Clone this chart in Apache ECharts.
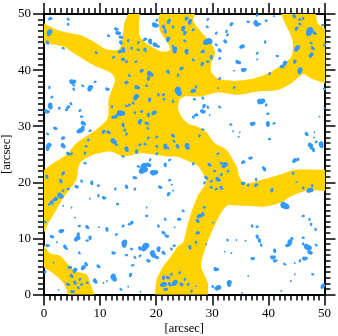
<!DOCTYPE html>
<html>
<head>
<meta charset="utf-8">
<style>html,body{margin:0;padding:0;background:#fff}#c{width:338px;height:336px}</style>
<script src="https://cdn.jsdelivr.net/npm/echarts@6/dist/echarts.min.js"></script>
</head>
<body>
<div id="c"></div>
<script>
const axisTitle = "[arcsec]";
const axisRange = [0, 50];
const tickStep = 10;
const minorPerMajor = 10;

// Yellow network outline, [x, y] in arcsec
const networkMain = [[-1,48.8],[0,48.35],[2.26,47.2],[4.63,46.6],[6.7,46.15],[8.8,45.1],[11.2,43.7],[13.4,43.7],[14.1,46.6],[14.3,48.35],[15,50],[15,51],
[17.1,51],[17.1,50],[16.9,47.8],[17.1,46],[18.6,44.5],[21,43.3],[22.5,43.6],[21.9,45.1],[20.7,46.9],[20.4,49],[20.6,50],[20.6,51],
[26.9,51],[26.9,50],[26.55,48.9],[27.7,47.2],[29.8,44.8],[30.5,43],[29.8,41.2],[29.8,39.7],[31,38.5],[33.96,38.1],[36.9,38.4],[39.9,39.4],[42.3,40.9],[44.1,42.4],[44.4,44.5],[44.1,46],[43.2,47.8],[42.3,50],[42.3,51],
[48.5,51],[48.5,50],[48.8,48.35],[50,47.5],[51,47],[51,37.2],[50,37.65],[47.6,38.5],[46.2,39.3],[44.1,37.65],[41.7,36.45],[38.1,36.2],[34.6,35.6],[31,36],[28,35.3],[25.07,35.3],[24.2,34.7],[23.9,33.2],[24.5,31.7],[25.7,30.5],[27.4,29.9],[28.9,29],[30.4,27],[32.5,25.8],[34.3,22.9],
[34.9,20.8],[35.8,19.8],[38.1,20.25],[41.7,21.25],[44.7,22.2],[50,22.2],[51,22.2],[51,18.4],[50,18.45],[47.05,18.6],[44.1,17.55],[42.3,16.4],[39.3,15.65],[35.8,15.8],[32.8,15.9],[31.6,14.6],[30.1,11.6],[28.9,8.65],[28,5.1],[29.2,2.1],[29.2,0],[29.2,-1],
[19.8,-1],[19.8,0],[20.1,2.7],[21.3,5.1],[22.5,6.6],[23.9,8.65],[24.8,9.25],[25.4,11.6],[26.26,14.6],[27.4,17.55],[28.9,19.9],[28.6,21.1],[27.4,22.9],[23.9,24.5],[22.1,24.6],
[17.7,25.2],[15.9,24.9],[14.1,24.6],[11.8,25.5],[8.8,24.9],[6.4,23.4],[5.8,20.5],[4.6,18.8],[3.45,17.2],[2.26,15.2],[0.5,12.2],[0,11],[-1,10],
[-1,21.5],[0,22.2],[1.66,23.4],[4,24.9],[5.8,27],[8.8,29],[11.2,31.1],[11.5,32.3],[11.5,34.7],[12.65,38.2],[12.06,39.4],[8.8,40.9],[5.8,42.7],[3.45,44.2],[0,44.8],[-1,44.9]];
const networkCorner = [[-1,9.5],[0,8.8],[1.07,7.35],[2.85,6.9],[4.3,5.4],[5.5,4.2],[7.6,3.6],[8.2,2.1],[9,0],[9.3,-1],[4.1,-1],[4.3,0],[3.4,2.1],[1.7,3.7],[0,4.8],[-1,5.4]];
const networkPolygons = [networkMain, networkCorner];

// Blue patches, [x, y, width]
const patchesUpperLeft = [[1.1,49.2,3],[.95,46.7,5],[.6,44.9,3],[4.3,49.05,2],[4.3,48.15,2],[11.5,46.1,2],[12.9,47.3,3],[13.2,46.6,4],[13.7,45.85,3],[13.7,44.9,3],[15,45.25,2],[16.8,44.9,2],[14.1,43.6,4],[13.5,43.3,3],[15.6,43.9,2],[16.8,43.6,2],[18,43.6,3],[9.3,43.1,2],[3.4,43.9,2],[12.4,42.3,2],[14.1,41.9,3],[14.7,41.5,2],[16.4,41.5,2],[17.4,39.9,3],[18.9,39.3,5],[18.6,38.5,3],[15.2,39,2],[14.7,37.8,3],[5.1,37.9,5],[5.3,37.3,2],[6.9,37.2,2],[8.2,36.8,5],[11.3,36.6,3],[9.1,37.9,2],[5.3,36.6,2],[.95,36.9,2],[16.6,36.9,4],[18.3,37.2,2],[1.4,35.2,2],[16.4,35.2,5],[15.9,34.1,2],[18.8,34.7,3],[20.4,35.6,2],[21.3,35.6,2],[21.4,34.8,2],[1.1,33.6,5],[.5,32.6,4],[2.7,33.2,2],[4.3,33.4,3],[4,32.9,2],[4.8,34,2],[6.4,32.8,2],[6.7,31.7,2],[13.7,32.3,6],[12.9,31.8,3],[12.4,31.6,3],[12.1,33.5,2],[14.7,33.6,2],[15.2,33.8,2],[16.2,32.4,2],[17.4,32.6,2],[19.6,32.4,4],[18.6,32,3],[7,30.5,4],[6.9,29.6,4],[6.4,29.2,5],[8.2,29.2,2],[2,29.6,3],[.65,28.6,2],[14.1,30.2,3],[14.4,29.3,2],[14.7,28.6,2],[17.1,30.8,4],[18.3,30.5,3],[18.5,29.6,2],[10.6,29,3],[11.5,28.9,3],[3.4,27.9,3],[.8,26.5,5],[3.4,26.5,4],[.65,25.8,2],[12.4,27.3,5],[12.9,26.7,2],[7.9,27.5,2],[7.5,26.4,2],[4.3,25.1,3],[4.9,25.1,2],[7.3,25.2,2],[14.7,25.9,4],[14.1,24.6,2],[16.5,25.5,3],[18,26.8,2],[20.1,26.4,2],[21.6,26.4,4],[18.6,27.9,2],[20.1,28.1,2],[17.1,26.7,2],[18.9,24,2],[20.1,25.1,2],[17.7,22.8,6],[18.6,23.1,4],[16.8,22.8,2],[7.3,23.4,2],[21.6,23.1,3],[18,45.5,3],[18.9,45.1,4],[19.8,44.5,4],[20.4,44.2,2],[19.8,48,5],[21.3,47.7,3],[21.6,46.9,3],[20.1,48.9,2],[22.2,48.6,3]];
const patchesUpperRight = [[22.4,48.9,2],[25.4,49.2,3],[26,48.6,4],[23,47.7,2],[24.8,47.4,4],[25.1,46.6,3],[26.6,47.2,2],[22.1,45.5,4],[25.1,45.2,2],[29.2,45.1,7],[30.7,44.5,2],[31.3,43.5,3],[32.3,45.1,3],[29.2,49.05,2],[29.1,47.7,2],[33.4,48.2,3],[32.5,46.9,2],[32.7,46.3,2],[30.7,46.6,2],[36.4,48.6,2],[37.8,48.3,5],[38.4,48.2,2],[39.6,48.8,2],[38,49.8,2],[41,49.6,1],[35.3,44.2,4],[39.4,45,2],[23.3,43.6,5],[25.4,43.3,4],[28.3,43.3,3],[23,44.2,2],[29.8,42.3,3],[29.2,41.5,2],[31.3,42.1,2],[34.6,41.4,4],[35.6,40,4],[33.9,39.9,1],[38,43,2],[38,41.9,1],[41.6,42.5,2],[28.2,41.1,3],[26.6,41.8,2],[24.5,40.3,3],[23.9,39.1,2],[22.1,39.7,3],[40.2,39.4,2],[31.3,38.5,2],[42.9,41.2,4],[42.4,40.6,3],[44.7,41.5,3],[45.6,39.9,5],[45.1,43.9,5],[47.9,43.9,3],[47.6,42.7,4],[47.3,46.9,7],[48.2,46.6,3],[45,47.4,3],[44.6,49.6,3],[45.6,49.05,2],[46.2,49.2,2],[45.6,48.2,2],[49.7,48,2],[47.6,44.8,2],[50,44.5,2],[23.9,36.2,7],[23,34.4,2],[26.6,36.3,4],[27.1,37,2],[33.9,36.9,2],[31,36.8,1],[28.3,35,2],[26.8,34.8,2],[28.5,33.6,3],[28.3,32.6,4],[27.1,32,3],[29.2,33.4,2],[31.3,33.4,2],[29.5,32,1],[26.6,31.6,2],[38.7,34.4,6],[39.6,33.8,2],[39.9,32.2,2],[37.2,30.4,4],[39.9,30.4,4],[41,30.5,2],[33.3,30.3,2],[33.7,29.1,1],[34.9,28.9,1],[34.7,28.1,1],[40.2,27.7,2],[46.8,28.6,3],[48.2,28.9,1],[48.1,28,1],[50,36.6,2],[50,33.2,1],[49.1,31.7,1],[36.8,24.3,3],[35.5,23.6,3],[44.7,23.9,4],[45.3,24.1,2],[39.2,22.5,3],[47.3,26.7,3],[47.6,26.4,4],[48,25.8,3],[49.4,26.7,5],[48.5,27.2,2],[23,28.3,3],[22.1,26.1,2],[23.8,26.4,3],[25.5,26.4,5],[27.7,28.3,2],[28.3,29.4,2],[23.2,27.3,2],[26.6,23.3,2],[29.5,23.1,3],[32.2,23.1,5],[31,25.1,2],[31.6,23.4,2],[22.4,24,2]];
const patchesLowerLeft = [[.5,21,3],[3.4,21.6,3],[3,20.2,3],[3.4,18.5,2],[2.9,17.6,5],[2,17,4],[1.4,16.4,3],[.95,16.1,2],[4.3,18.8,2],[5.8,19.2,3],[6.7,20.2,2],[8.5,19.9,3],[9.7,19.4,2],[12.7,18.8,2],[14.7,19.2,3],[16.2,18.8,2],[9.7,17.6,2],[10.7,17.2,3],[13.1,16.1,2],[3.4,15.8,1],[4.9,15.5,1],[5.5,13.7,1],[8.2,17.1,1],[17.7,22.2,7],[19.6,21.7,6],[16.2,20.8,3],[20.7,19.1,3],[22.2,17.9,3],[18.3,15.5,1],[15.6,12.8,3],[14.1,12.2,2],[15.2,12.5,2],[18.3,14,2],[21.6,13.4,2],[20.4,12.2,2],[.2,12.9,2],[3.1,11.3,4],[6.3,12.2,2],[7.7,12,3],[6.1,10.7,3],[5.9,10,5],[9.8,12,1],[11.2,11.6,3],[12.9,10.7,2],[1.4,10.3,3],[2.3,9.3,1],[8.2,10.1,3],[7.7,9.6,2],[21.3,11,3],[21.9,10.4,3],[14.3,9.1,6],[.65,8.7,3],[3.7,8.5,3],[4,8.2,2],[12.4,7.4,3],[6.3,7.4,2],[14.7,7,2],[15.6,8.1,2],[18,8.5,7],[17.1,8.2,3],[19.4,7.2,6],[20.4,8.1,4],[21.3,7.4,3],[20.1,6.6,3],[18.6,6,3],[16.2,6.6,2],[17.1,6.9,2],[1.7,5.7,1],[4.6,4.8,3],[5.5,4.3,4],[7,4.8,4],[7.5,5.4,3],[9.7,5,3],[.2,4,2],[12.4,3,6],[15.4,3.5,3],[15.8,5.2,2],[9.1,2.4,4],[11.2,2.4,1],[4.9,3.3,3],[6.4,2.7,2],[5.5,2.1,3],[4.3,1.8,3],[6.7,1.8,2],[7.7,2.1,2],[5.1,.5,3],[6.1,1.2,2],[2.6,.8,1],[13.7,.9,2],[15,1.4,1],[17.2,.5,1],[10.6,2.1,1],[21.3,3,3],[21.3,1.8,5],[21.7,.9,3]];
const patchesLowerRight = [[22.8,19.6,1],[23,18.5,1],[24.8,14.9,2],[24.1,13.4,3],[23.3,12,1],[23.2,8.7,2],[22.7,8.1,2],[26,8.4,3],[27.4,11,3],[27.1,9.3,2],[28.9,9,1],[27.4,13.1,3],[27.7,14,4],[28.3,14.3,3],[28.6,15.5,2],[30.1,12.8,1],[28.9,20.8,3],[29.8,20.2,2],[31,20.5,4],[31.6,21.4,2],[32.8,22,2],[30.4,22,2],[28.6,19.9,2],[29.8,19.1,2],[30.7,18.8,2],[31.6,19,3],[35.5,19.8,3],[36.4,19.5,2],[37.8,20.5,2],[37.8,19.5,3],[39.3,22.2,2],[22.4,20.4,2],[40.6,18.6,3],[44.4,21.6,2],[45,20,1],[47.4,18.6,5],[47.8,19.4,2],[46.2,19,2],[42.9,15.8,7],[46.2,14,2],[47.3,13.4,2],[47.6,12.5,2],[48.4,11.6,2],[37.1,12.2,2],[38,12.1,2],[38,10.3,3],[38.4,9.6,3],[38.7,8.8,2],[32.7,9.7,2],[34.3,9.7,1],[35.9,9.6,1],[33.4,7.4,1],[32.2,7.6,1],[37.2,6.4,3],[41.1,7.8,3],[40.8,6.6,4],[41.2,6,3],[42.9,5.4,2],[43.8,9.3,5],[43.4,8.7,3],[44.2,10,2],[46.2,10.1,2],[46.2,9,2],[47,8.4,6],[47.4,7.5,4],[46.5,6.4,4],[45.6,6,2],[44.7,5.6,1],[48.5,8.8,2],[30.7,4.5,4],[33,2,5],[31,1.2,5],[30.1,1.4,2],[36.4,3.3,1],[35.3,.3,1],[44.7,3.6,1],[44,2.4,1],[47.9,3.6,2],[49.7,1.5,4],[42.3,.6,1],[22.1,3,3],[23.3,2.1,5],[24.5,1.8,3],[24.2,3.9,2],[22.7,3.6,2],[25.1,2.7,2],[26.3,.6,2],[27.1,1.5,1],[25.7,1.8,2],[22.4,1.8,3]];

const FONT = '"Liberation Serif", serif';
const INK = '#000';
const BLOB = 'path://M0,-5C3,-6 8,-4 9,-1C10,2 6,5 2,4C-2,5 -8,6 -9,2C-10,-2 -4,-4 0,-5Z';

function ax(side, showLabels, title, gap) {
  return {
    type: 'value', position: side, min: axisRange[0], max: axisRange[1], interval: tickStep,
    splitLine: {show: false},
    axisLine: {show: true, onZero: false, lineStyle: {color: INK, width: 2}},
    axisTick: {show: true, length: 11, lineStyle: {color: INK, width: 1.5}},
    minorTick: {show: true, splitNumber: minorPerMajor, length: 6, lineStyle: {color: INK, width: 1.5}},
    axisLabel: {show: showLabels, color: INK, fontFamily: FONT, fontSize: 13, margin: 13},
    name: title || '', nameLocation: 'middle', nameGap: gap || 0, nameMoveOverlap: false,
    nameTextStyle: {color: INK, fontFamily: FONT, fontSize: 12.5}
  };
}

const chart = echarts.init(document.getElementById('c'), null, {renderer: 'canvas'});
const gridRect = {left: 44, right: 13.5, top: 14, bottom: 41.5, outerBoundsMode: 'none'};
chart.setOption({
  animation: false,
  backgroundColor: '#fff',
  grid: gridRect,
  xAxis: [ax('bottom', true, axisTitle, 28), ax('top', false)],
  yAxis: [ax('left', true, axisTitle, 31), ax('right', false)],
  series: [
    {
      type: 'custom', clip: true, z: 1,
      data: networkPolygons.map((_, i) => [i]),
      encode: {x: [], y: []},
      renderItem: (params, api) => ({
        type: 'polygon',
        shape: {points: networkPolygons[params.dataIndex].map(p => api.coord(p)), smooth: 0.25},
        style: {fill: '#ffd200', stroke: null}
      })
    },
    {
      type: 'scatter', clip: true, z: 2, symbol: BLOB,
      data: [].concat(patchesUpperLeft, patchesUpperRight, patchesLowerLeft, patchesLowerRight),
      symbolSize: d => [d[2] * 1.25 + 0.9, d[2] * 0.85 + 0.9],
      symbolRotate: d => (d[0] * 97 + d[1] * 53) % 180,
      itemStyle: {color: '#3399ff', opacity: 1}
    }
  ]
});
</script>
</body>
</html>
